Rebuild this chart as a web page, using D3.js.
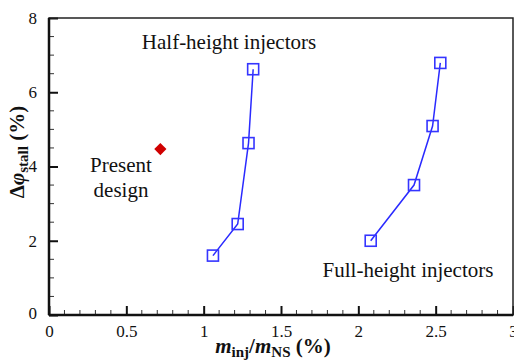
<!DOCTYPE html>
<html>
<head>
<meta charset="utf-8">
<script src="https://cdn.jsdelivr.net/npm/d3@7"></script>
<style>
  body { margin: 0; background: white; }
  text { font-family: "Liberation Serif", "Times New Roman", serif; fill: #111; }
</style>
</head>
<body>
<div class="chart"></div>
<script>
// data
const halfX = [1.06, 1.22, 1.29, 1.32];
const halfY = [1.6, 2.45, 4.63, 6.62];
const fullX = [2.08, 2.36, 2.48, 2.53];
const fullY = [2.0, 3.5, 5.09, 6.79];
const presentX = [0.72];
const presentY = [4.47];
const xTicks = [0, 0.5, 1, 1.5, 2, 2.5, 3];
const yTicks = [0, 2, 4, 6, 8];

const W = 514, H = 362;
const margin = { top: 18, right: 1, bottom: 47, left: 49 };
const width = W - margin.left - margin.right;
const height = H - margin.top - margin.bottom;

const svg = d3.select('.chart').append('svg')
  .attr('width', W)
  .attr('height', H);

const g = svg.append('g')
  .attr('transform', `translate(${margin.left}, ${margin.top})`);

const xScale = d3.scaleLinear().domain([0, 3]).range([0, width]);
const yScale = d3.scaleLinear().domain([0, 8]).range([height, 0]);

// minor ticks
const xMinor = d3.range(0, 30).map(i => i / 10).filter(v => Math.abs(v * 2 - Math.round(v * 2)) > 1e-6);
const yMinor = d3.range(0, 16).map(i => i / 2).filter(v => v % 2 !== 0);

g.append('g').selectAll('line').data(xMinor).enter().append('line')
  .attr('x1', d => xScale(d)).attr('x2', d => xScale(d))
  .attr('y1', height).attr('y2', height - 5)
  .attr('stroke', '#333').attr('stroke-width', 1);
g.append('g').selectAll('line').data(yMinor).enter().append('line')
  .attr('x1', 0).attr('x2', 5)
  .attr('y1', d => yScale(d)).attr('y2', d => yScale(d))
  .attr('stroke', '#333').attr('stroke-width', 1);

// major ticks via axes (inward)
const xAxis = g.append('g')
  .attr('transform', `translate(0, ${height})`)
  .call(d3.axisBottom(xScale).tickValues(xTicks).tickFormat(d3.format('')).tickSizeInner(-9).tickSizeOuter(0).tickPadding(13));
const yAxis = g.append('g')
  .call(d3.axisLeft(yScale).tickValues(yTicks).tickSizeInner(-9).tickSizeOuter(0).tickPadding(12));

[xAxis, yAxis].forEach(a => {
  a.select('.domain').remove();
  a.selectAll('line').attr('stroke', '#111').attr('stroke-width', 2);
  a.selectAll('text').style('font-family', '"Liberation Serif", serif').style('font-size', '17px').attr('fill', '#222');
});
xAxis.selectAll('text').attr('dy', '0.5em');
yAxis.select('.tick text').attr('dy', '0.2em');

// frame
g.append('rect')
  .attr('x', 0).attr('y', 0).attr('width', width).attr('height', height)
  .attr('fill', 'none').attr('stroke', '#222').attr('stroke-width', 1.5);
g.append('line').attr('x1', 0).attr('x2', 0).attr('y1', 0).attr('y2', height)
  .attr('stroke', '#111').attr('stroke-width', 2.5);
g.append('line').attr('x1', 0).attr('x2', width).attr('y1', height).attr('y2', height)
  .attr('stroke', '#111').attr('stroke-width', 2.5);

// series
const line = d3.line().x(d => xScale(d[0])).y(d => yScale(d[1]));
const series = [d3.zip(halfX, halfY), d3.zip(fullX, fullY)];
series.forEach(s => {
  g.append('path').datum(s)
    .attr('d', line)
    .attr('fill', 'none')
    .attr('stroke', '#2a2aff')
    .attr('stroke-width', 1.5);
  g.append('g').selectAll('rect').data(s).enter().append('rect')
    .attr('x', d => xScale(d[0]) - 5.5)
    .attr('y', d => yScale(d[1]) - 5.5)
    .attr('width', 11).attr('height', 11)
    .attr('fill', 'none')
    .attr('stroke', '#3535ff')
    .attr('stroke-width', 1.6);
});

// present design
g.append('g').selectAll('path').data(d3.zip(presentX, presentY)).enter().append('path')
  .attr('d', d3.symbol().type(d3.symbolDiamond2).size(95))
  .attr('transform', d => `translate(${xScale(d[0])}, ${yScale(d[1])})`)
  .attr('fill', '#d00000');

// annotations
const ann = [
  { t: 'Half-height injectors', x: 229, y: 49 },
  { t: 'Present', x: 121, y: 172 },
  { t: 'design', x: 121, y: 197 },
  { t: 'Full-height injectors', x: 408, y: 277 }
];
svg.selectAll('text.ann').data(ann).enter().append('text')
  .attr('class', 'ann')
  .attr('x', d => d.x).attr('y', d => d.y)
  .attr('text-anchor', 'middle')
  .style('font-size', '21px')
  .text(d => d.t);

// axis titles
const xt = svg.append('text')
  .attr('x', 273).attr('y', 353)
  .attr('text-anchor', 'middle')
  .style('font-size', '21px').style('font-weight', 'bold');
xt.append('tspan').style('font-style', 'italic').text('m');
xt.append('tspan').attr('dy', 4).style('font-size', '15px').text('inj');
xt.append('tspan').attr('dy', -4).text('/');
xt.append('tspan').style('font-style', 'italic').text('m');
xt.append('tspan').attr('dy', 4).style('font-size', '15px').text('NS');
xt.append('tspan').attr('dy', -4).text(' (%)');

const yt = svg.append('text')
  .attr('transform', 'translate(24, 152) rotate(-90)')
  .attr('text-anchor', 'middle')
  .style('font-size', '21px').style('font-weight', 'bold');
yt.append('tspan').text('Δ');
yt.append('tspan').style('font-style', 'italic').text('φ');
yt.append('tspan').attr('dy', 4).style('font-size', '15px').text('stall');
yt.append('tspan').attr('dy', -4).text(' (%)');
</script>
</body>
</html>
